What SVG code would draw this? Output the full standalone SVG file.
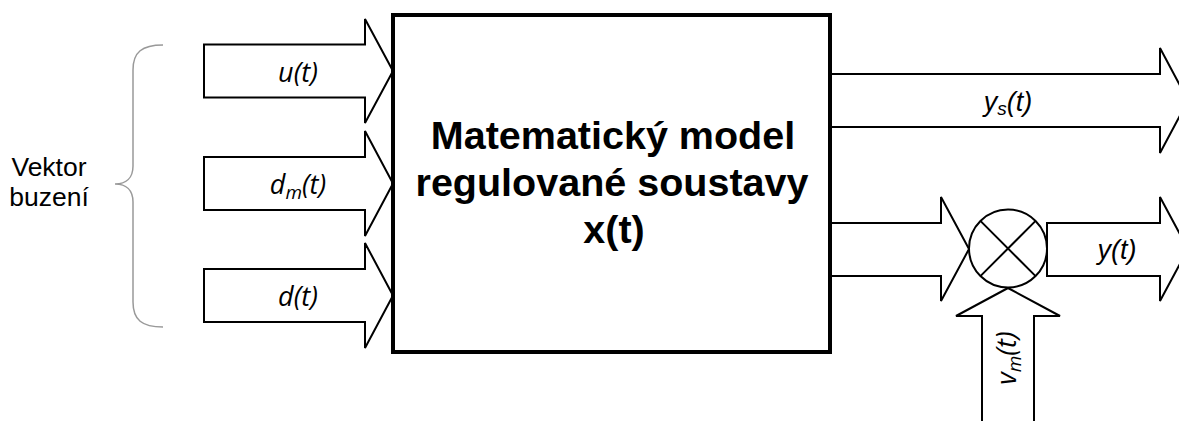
<svg xmlns="http://www.w3.org/2000/svg" width="1179" height="421" viewBox="0 0 1179 421">
<style>
.arrow{fill:#fff;stroke:#000;stroke-width:2;stroke-linejoin:miter}
.lbl{font-family:"Liberation Sans",Arial,sans-serif;font-style:italic;font-size:27px;fill:#000}
.lbl2{font-family:"Open Sans","Noto Sans",sans-serif;font-style:italic;font-size:27px;fill:#000}
.sub{font-size:19px}
.title{font-family:"Liberation Sans",Arial,sans-serif;font-weight:bold;font-size:39.5px;fill:#000;text-anchor:middle}
.note{font-family:"Liberation Sans",Arial,sans-serif;font-size:26.5px;fill:#000;text-anchor:middle}
</style>
<rect width="1179" height="421" fill="#fff"/>
<g id="connectors">
  <g id="in-u">
    <path class="arrow" d="M204,44.5 L365,44.5 L365,19 L393,71 L365,123 L365,97.5 L204,97.5 Z"/>
  </g>
  <g id="in-dm">
    <path class="arrow" d="M204,157 L365,157 L365,131 L393,183.5 L365,236 L365,210 L204,210 Z"/>
  </g>
  <g id="in-d">
    <path class="arrow" d="M204,269 L365,269 L365,243 L393,295.5 L365,348 L365,322 L204,322 Z"/>
  </g>
  <g id="out-ys">
    <path class="arrow" d="M830,74 L1160,74 L1160,48 L1188,100.5 L1160,153 L1160,127 L830,127"/>
  </g>
  <g id="out-x">
    <path class="arrow" d="M830,223 L941,223 L941,197 L969,249 L941,301 L941,276 L830,276"/>
  </g>
  <g id="out-y">
    <path class="arrow" d="M1047,223 L1160,223 L1160,197 L1188,249 L1160,301 L1160,276 L1047,276 Z"/>
  </g>
  <g id="in-vm">
    <path class="arrow" d="M982,430 L982,316 L956,316 L1008,288 L1060,316 L1034,316 L1034,430"/>
  </g>
</g>
<g id="block">
  <rect x="393" y="15" width="437" height="337" fill="#fff" stroke="#000" stroke-width="4"/>
  <text class="title" x="613" y="149">Matematický model</text>
  <text class="title" x="612" y="196">regulované soustavy</text>
  <text class="title" x="614" y="243">x(t)</text>
</g>
<g id="sum">
  <circle cx="1008" cy="248.5" r="39" fill="#fff" stroke="#000" stroke-width="2"/>
  <path d="M980.4,220.9 L1035.6,276.1 M1035.6,220.9 L980.4,276.1" stroke="#000" stroke-width="2" fill="none"/>
</g>
<g id="brace">
  <path d="M163,45 C142,45 133,52 133,70 L133,166 C133,178 126,184 115,184 C126,184 133,190 133,202 L133,302 C133,320 142,327 163,327" fill="none" stroke="#999" stroke-width="1.5"/>
  <text class="note" x="49" y="176">Vektor</text>
  <text class="note" x="49" y="206">buzení</text>
</g>
<g id="labels">
  <text class="lbl2" x="298" y="82" text-anchor="middle">u(t)</text>
  <text class="lbl2" x="298" y="194" text-anchor="middle">d<tspan class="sub" dy="5">m</tspan><tspan dy="-5">(t)</tspan></text>
  <text class="lbl2" x="298" y="306" text-anchor="middle">d(t)</text>
  <text class="lbl" x="1008" y="111" text-anchor="middle">y<tspan class="sub" dy="4">s</tspan><tspan dy="-4">(t)</tspan></text>
  <text class="lbl" x="1117" y="259" text-anchor="middle">y(t)</text>
  <text class="lbl2" transform="translate(1016,358) rotate(-90)" text-anchor="middle">v<tspan class="sub" dy="5">m</tspan><tspan dy="-5">(t)</tspan></text>
</g>
</svg>
